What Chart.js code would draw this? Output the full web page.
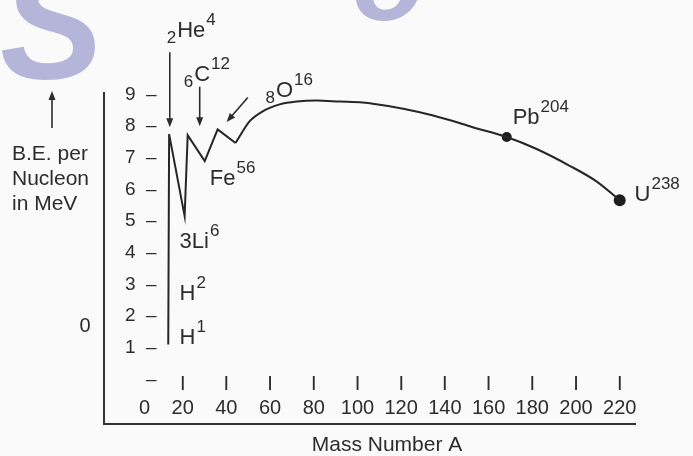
<!DOCTYPE html>
<html>
<head>
<meta charset="utf-8">
<script src="https://cdn.jsdelivr.net/npm/chart.js@4.4.0/dist/chart.umd.min.js"></script>
<style>
  html, body { margin: 0; padding: 0; background: #fafafa; }
  canvas { display: block; }
</style>
</head>
<body>
<canvas id="beChart" width="693" height="456"></canvas>
<script>
// light nuclei: vertical rise, then the He / C / O zigzag
const zigzagMass = [13.4, 13.8, 20.9, 22.3, 30.1, 36.0, 44.2];
const zigzagBE = [1.1, 7.75, 5.16, 7.72, 6.9, 7.9, 7.47];

// smooth part of the curve, O16 onwards to U238
const curveMass = [44.2, 50.7, 56.6, 64.4, 72.2, 81.3, 91.9, 102.4, 114.7, 128.5, 140.8, 152.7, 168.3, 182.0, 197.1, 209.5, 220.0];
const curveBE = [7.47, 8.16, 8.47, 8.69, 8.78, 8.81, 8.78, 8.75, 8.63, 8.44, 8.22, 7.97, 7.66, 7.28, 6.75, 6.25, 5.66];

// dots on Pb and U
const markedMass = [168.3, 220.0];
const markedBE = [7.66, 5.66];

const xTickValues = [0, 20, 40, 60, 80, 100, 120, 140, 160, 180, 200, 220];
const yTickValues = [0, 1, 2, 3, 4, 5, 6, 7, 8, 9];

// nuclide labels: atomic number (subscript), symbol, mass number (superscript)
const nuclideZ = ["2", "6", "8", "", "", "", "", "", ""];
const nuclideSym = ["He", "C", "O", "Fe", "3Li", "H", "H", "Pb", "U"];
const nuclideMass = ["4", "12", "16", "56", "6", "2", "1", "204", "238"];

const ink = "#2c2c2c";
const font = "'Liberation Sans', Arial, sans-serif";

const toPts = (xs, ys) => xs.map((x, i) => ({ x: x, y: ys[i] }));

function arrow(ctx, x1, y1, x2, y2) {
  const ang = Math.atan2(y2 - y1, x2 - x1);
  ctx.beginPath();
  ctx.moveTo(x1, y1);
  ctx.lineTo(x2 - 6 * Math.cos(ang), y2 - 6 * Math.sin(ang));
  ctx.stroke();
  ctx.beginPath();
  ctx.moveTo(x2, y2);
  ctx.lineTo(x2 - 9 * Math.cos(ang) + 3.5 * Math.sin(ang), y2 - 9 * Math.sin(ang) - 3.5 * Math.cos(ang));
  ctx.lineTo(x2 - 9 * Math.cos(ang) - 3.5 * Math.sin(ang), y2 - 9 * Math.sin(ang) + 3.5 * Math.cos(ang));
  ctx.closePath();
  ctx.fill();
}

function nuclide(ctx, x, y, z, sym, mass) {
  let cx = x;
  if (z) {
    ctx.font = "17px " + font;
    ctx.fillText(z, cx, y + 6);
    cx += ctx.measureText(z).width + 1;
  }
  ctx.font = "22px " + font;
  ctx.fillText(sym, cx, y);
  cx += ctx.measureText(sym).width + 1;
  ctx.font = "17px " + font;
  ctx.fillText(mass, cx, y - 12);
}

// where each nuclide label sits, in (A, B.E.) units
const labelSpots = [[12.7, 10.81], [20.5, 9.44], [57.9, 8.91], [32.4, 6.13], [18.6, 4.16], [18.6, 2.5], [18.6, 1.13], [171.0, 8.06], [226.8, 5.63]];
const arrowSpots = [[14.1, 10.34, 14.1, 7.97], [27.8, 9.25, 27.8, 8.0], [49.8, 8.91, 40.1, 8.13]];

const paper = {
  id: "paper",
  beforeDraw(chart) {
    const ctx = chart.ctx;
    ctx.save();
    ctx.fillStyle = "#fafafa";
    ctx.fillRect(0, 0, chart.width, chart.height);
    // watermark remnants at the top edge
    ctx.fillStyle = "#b5b5da";
    ctx.font = "italic bold 155px " + font;
    ctx.fillText("S", 0, 78);
    ctx.font = "italic bold 120px " + font;
    ctx.fillText("o", 352, 20);
    ctx.restore();
  },
  afterDraw(chart) {
    const ctx = chart.ctx;
    const xs = chart.scales.x, ys = chart.scales.y;
    const area = chart.chartArea;
    ctx.save();
    ctx.fillStyle = ink;
    ctx.strokeStyle = ink;
    ctx.lineWidth = 1.6;
    ctx.textBaseline = "alphabetic";
    ctx.textAlign = "left";

    labelSpots.forEach((s, i) => {
      nuclide(ctx, xs.getPixelForValue(s[0]), ys.getPixelForValue(s[1]), nuclideZ[i], nuclideSym[i], nuclideMass[i]);
    });
    arrowSpots.forEach(a => {
      arrow(ctx, xs.getPixelForValue(a[0]), ys.getPixelForValue(a[1]), xs.getPixelForValue(a[2]), ys.getPixelForValue(a[3]));
    });

    // y axis caption with its arrow
    ctx.font = "21px " + font;
    ctx.fillText("B.E. per", area.left - 92, 160);
    ctx.fillText("Nucleon", area.left - 92, 185);
    ctx.fillText("in MeV", area.left - 92, 210);
    arrow(ctx, area.left - 52, 128, area.left - 52, 91);
    ctx.font = "20px " + font;
    ctx.textAlign = "center";
    ctx.fillText("0", area.left - 19, 332);
    ctx.font = "21px " + font;
    ctx.fillText("Mass Number A", area.left + 283, area.bottom + 27);
    ctx.restore();
  }
};

new Chart(document.getElementById("beChart"), {
  type: "line",
  data: {
    datasets: [
      {
        data: toPts(zigzagMass, zigzagBE),
        borderColor: "#262626",
        borderWidth: 2,
        pointRadius: 0,
        tension: 0,
        xAxisID: "x", yAxisID: "y"
      },
      {
        data: toPts(curveMass, curveBE),
        borderColor: "#262626",
        borderWidth: 2,
        pointRadius: 0,
        cubicInterpolationMode: "monotone",
        xAxisID: "x", yAxisID: "y"
      },
      {
        data: toPts(markedMass, markedBE),
        showLine: false,
        pointRadius: [5, 6],
        pointBackgroundColor: "#1e1e1e",
        pointBorderWidth: 0,
        xAxisID: "x", yAxisID: "y"
      }
    ]
  },
  options: {
    responsive: false,
    animation: false,
    devicePixelRatio: 1,
    layout: { padding: { left: 104, right: 58, top: 93, bottom: 28 } },
    plugins: { legend: { display: false }, tooltip: { enabled: false } },
    scales: {
      x: {
        type: "linear",
        min: -16, max: 227,
        position: { y: 0.2 },
        afterBuildTicks: s => { s.ticks = xTickValues.map(v => ({ value: v })); },
        afterFit: s => { s.height = 0; },
        grid: { display: false, drawTicks: false },
        border: { display: false },
        ticks: {
          autoSkip: false, maxRotation: 0, padding: 0,
          color: ink,
          font: { family: font, size: 20, lineHeight: 1.2 },
          callback: v => v === 0 ? ["", "  0"] : ["I", String(v)]
        }
      },
      x2: {
        type: "linear",
        position: "bottom",
        min: 0, max: 1,
        afterFit: s => { s.height = 0; },
        grid: { display: false, drawTicks: false },
        border: { display: true, color: "#333333", width: 2 },
        ticks: { display: false }
      },
      y: {
        type: "linear",
        min: -1.4, max: 9.05,
        afterBuildTicks: s => { s.ticks = yTickValues.map(v => ({ value: v })); },
        afterFit: s => { s.width = 0; },
        grid: { display: false, drawTicks: false },
        border: { display: true, color: "#333333", width: 2 },
        ticks: {
          mirror: true, crossAlign: "far", padding: 21,
          color: ink,
          font: { family: font, size: 19 },
          callback: v => v === 0 ? "\u2013" : v + "  \u2013"
        }
      }
    }
  },
  plugins: [paper]
});
</script>
</body>
</html>
